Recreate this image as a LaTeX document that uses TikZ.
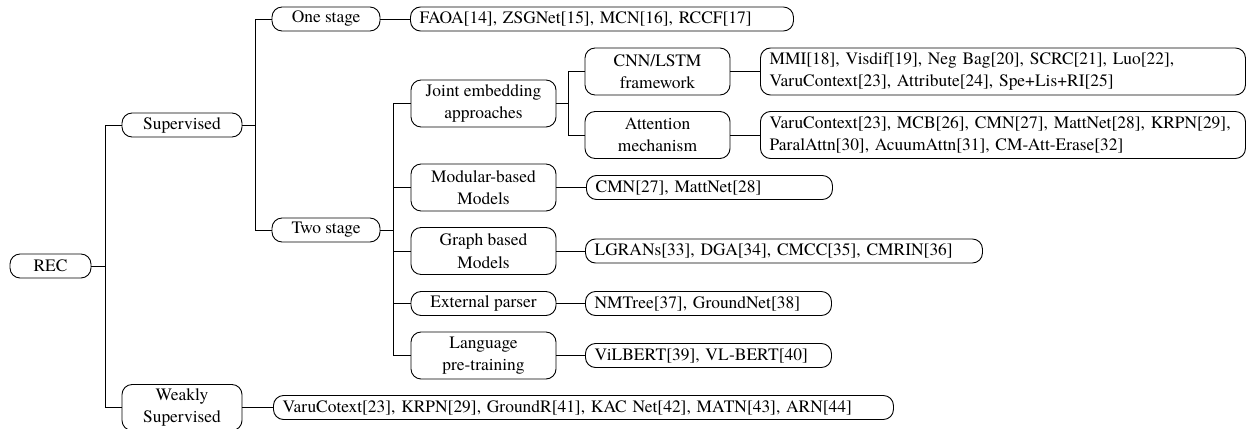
\documentclass[tikz,border=0pt]{standalone}
\usepackage{fontspec}
\setmainfont{texgyretermes}[Extension=.otf, UprightFont=*-regular, BoldFont=*-bold, ItalicFont=*-italic, BoldItalicFont=*-bolditalic]
\begin{document}
\begin{tikzpicture}[x=0.5453pt, y=-0.5453pt, line width=0.5pt,
  box/.style={draw, rounded corners=5.5pt, inner xsep=5pt, inner ysep=0pt,
     font=\fontsize{9.5}{12.2}\selectfont, align=center},
  bw/.style={minimum width=#1*0.5453pt},
  bh/.style={minimum height=#1*0.5453pt},
  leaf/.style={box, anchor=west, align=left, text width=#1*0.5453pt-10pt, minimum width=#1*0.5453pt},
  conn/.style={draw, line width=0.5pt}]
\useasboundingbox (0,0) rectangle (1247,429);
% level 0-1
\node[box, bw=81, bh=24] (rec) at (50.5,266) {REC};
\node[box, bw=120, bh=24] (sup) at (182,125) {Supervised};
\node[box, bw=120, bh=46] (weak) at (182,407.5) {Weakly\\Supervised};
% level 2
\node[box, bw=108, bh=24] (one) at (326,19) {One stage};
\node[box, bw=108, bh=24] (two) at (326,230) {Two stage};
% level 3
\node[box, bw=145, bh=47] (joint) at (483.5,103.5) {Joint embedding\\approaches};
\node[box, bw=145, bh=47] (mod) at (483.5,187.5) {Modular-based\\Models};
\node[box, bw=145, bh=47] (graph) at (483.5,251) {Graph based\\Models};
\node[box, bw=145, bh=24] (ext) at (483.5,303.5) {External parser};
\node[box, bw=145, bh=47] (lang) at (483.5,355.5) {Language\\pre-training};
% level 4
\node[box, bw=145, bh=47] (cnn) at (657.5,71.5) {CNN/LSTM\\framework};
\node[box, bw=145, bh=47] (att) at (657.5,135) {Attention\\mechanism};
% leaves
\node[leaf=383, bh=24] (faoa) at (410,19) {FAOA[14], ZSGNet[15], MCN[16], RCCF[17]};
\node[leaf=485, bh=47] (mmi) at (760,71.5) {MMI[18], Visdif[19], Neg Bag[20], SCRC[21], Luo[22],\\VaruContext[23], Attribute[24], Spe+Lis+RI[25]};
\node[leaf=485, bh=47] (vc) at (760,135) {VaruContext[23], MCB[26], CMN[27], MattNet[28], KRPN[29],\\ParalAttn[30], AcuumAttn[31], CM-Att-Erase[32]};
\node[leaf=246, bh=24] (cmn) at (586,187.5) {CMN[27], MattNet[28]};
\node[leaf=397, bh=24] (lgr) at (585,251) {LGRANs[33], DGA[34], CMCC[35], CMRIN[36]};
\node[leaf=246, bh=24] (nmt) at (585,303.5) {NMTree[37], GroundNet[38]};
\node[leaf=246, bh=24] (vil) at (585,355.5) {ViLBERT[39], VL-BERT[40]};
\node[leaf=620, bh=24] (vcw) at (273,407.5) {VaruCotext[23], KRPN[29], GroundR[41], KAC Net[42], MATN[43], ARN[44]};
% branch points
\coordinate (b1) at (105,266);
\coordinate (b2) at (255,125);
\coordinate (b3) at (393,230);
\coordinate (b4) at (568,103.5);
% connectors
\draw[conn] (rec.east) -- (b1);
\draw[conn] (b1) |- (sup.west);
\draw[conn] (b1) |- (weak.west);
\draw[conn] (sup.east) -- (b2);
\draw[conn] (b2) |- (one.west);
\draw[conn] (b2) |- (two.west);
\draw[conn] (two.east) -- (b3);
\draw[conn] (b3) |- (joint.west);
\draw[conn] (b3) |- (mod.west);
\draw[conn] (b3) |- (graph.west);
\draw[conn] (b3) |- (ext.west);
\draw[conn] (b3) |- (lang.west);
\draw[conn] (joint.east) -- (b4);
\draw[conn] (b4) |- (cnn.west);
\draw[conn] (b4) |- (att.west);
\draw[conn] (one.east) -- (faoa.west);
\draw[conn] (cnn.east) -- (mmi.west);
\draw[conn] (att.east) -- (vc.west);
\draw[conn] (mod.east) -- (cmn.west);
\draw[conn] (graph.east) -- (lgr.west);
\draw[conn] (ext.east) -- (nmt.west);
\draw[conn] (lang.east) -- (vil.west);
\draw[conn] (weak.east) -- (vcw.west);
\end{tikzpicture}
\end{document}
